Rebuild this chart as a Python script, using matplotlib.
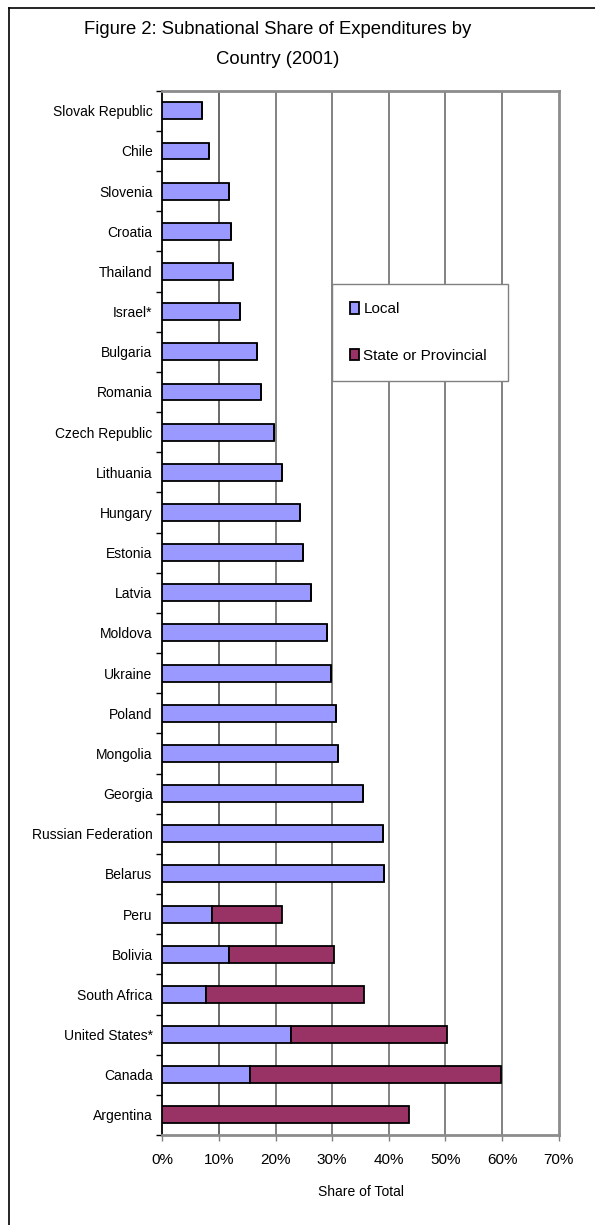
import matplotlib
matplotlib.use("Agg")
import matplotlib.pyplot as plt
from matplotlib.lines import Line2D
from matplotlib.ticker import FixedLocator, PercentFormatter
import numpy as np

plt.rcParams['font.family'] = ['Liberation Sans', 'DejaVu Sans']

countries = ["Slovak Republic", "Chile", "Slovenia", "Croatia", "Thailand", "Israel*",
             "Bulgaria", "Romania", "Czech Republic", "Lithuania", "Hungary", "Estonia",
             "Latvia", "Moldova", "Ukraine", "Poland", "Mongolia", "Georgia",
             "Russian Federation", "Belarus", "Peru", "Bolivia", "South Africa",
             "United States*", "Canada", "Argentina"]
local = [7.0, 8.2, 11.7, 12.1, 12.4, 13.7, 16.7, 17.5, 19.7, 21.1, 24.4, 24.9,
         26.2, 29.0, 29.8, 30.7, 31.0, 35.5, 38.9, 39.1, 8.8, 11.8, 7.8, 22.7, 15.5, 0.0]
state = [0.0] * 20 + [12.3, 18.5, 27.9, 27.6, 44.3, 43.6]

local_color = "#9999FF"
state_color = "#993366"

fig = plt.figure(figsize=(5.95, 12.25), dpi=100)
ax = fig.add_axes([162.3 / 595, 1 - 1135 / 1225, (558.7 - 162.3) / 595, (1135 - 90.7) / 1225])

y = np.arange(len(countries))
bar_h = 0.42
ax.barh(y, local, height=bar_h, color=local_color, edgecolor="black", linewidth=1.3,
        label="Local", zorder=3)
ax.barh(y, state, left=local, height=bar_h, color=state_color, edgecolor="black",
        linewidth=1.3, label="State or Provincial", zorder=3)

ax.set_ylim(len(countries) - 0.5, -0.5)
ax.set_xlim(0, 70)

ax.set_yticks(y)
ax.set_yticklabels(countries, fontsize=10)
ax.yaxis.set_minor_locator(FixedLocator(np.arange(-0.5, len(countries), 1.0)))
ax.tick_params(axis="y", which="major", length=0, pad=7)
ax.tick_params(axis="y", which="minor", length=4, width=1, color="black")

ax.set_xticks(np.arange(0, 71, 10))
ax.xaxis.set_major_formatter(PercentFormatter(decimals=0))
ax.tick_params(axis="x", which="major", length=4, width=1, color="#808080",
               labelsize=11, pad=9)
ax.set_xlabel("Share of Total", fontsize=10, labelpad=13)

for gx in range(10, 70, 10):
    ax.axvline(gx, color="#404040" if gx == 10 else "#606060", linewidth=1.1, zorder=1)

for side in ["top", "right", "bottom"]:
    ax.spines[side].set_color("#8c8c8c")
    ax.spines[side].set_linewidth(2)
ax.spines["left"].set_color("black")
ax.spines["left"].set_linewidth(1.3)

fig.text(0.466, 1 - 30 / 1225, "Figure 2: Subnational Share of Expenditures by",
         ha="center", va="center", fontsize=13.3)
fig.text(0.466, 1 - 60 / 1225, "Country (2001)", ha="center", va="center", fontsize=13.3)

leg = ax.legend(loc="upper left",
                bbox_to_anchor=(332 / 595, 1 - 284 / 1225, (508 - 332) / 595, 0.0),
                bbox_transform=fig.transFigure, mode="expand", fontsize=11,
                frameon=True, fancybox=False, edgecolor="#808080", framealpha=1,
                handlelength=0.55, handleheight=0.8, handletextpad=0.3,
                labelspacing=2.1, borderpad=1.2, borderaxespad=0)
leg.get_frame().set_linewidth(1.0)

# chart-area frame along the left and top edges
fig.add_artist(Line2D([9 / 595, 9 / 595], [0, 1 - 7.5 / 1225], color="black",
                      linewidth=1.2, transform=fig.transFigure))
fig.add_artist(Line2D([9 / 595, 1], [1 - 7.5 / 1225, 1 - 7.5 / 1225], color="black",
                      linewidth=1.2, transform=fig.transFigure))

fig.savefig("out.png", dpi=100)
